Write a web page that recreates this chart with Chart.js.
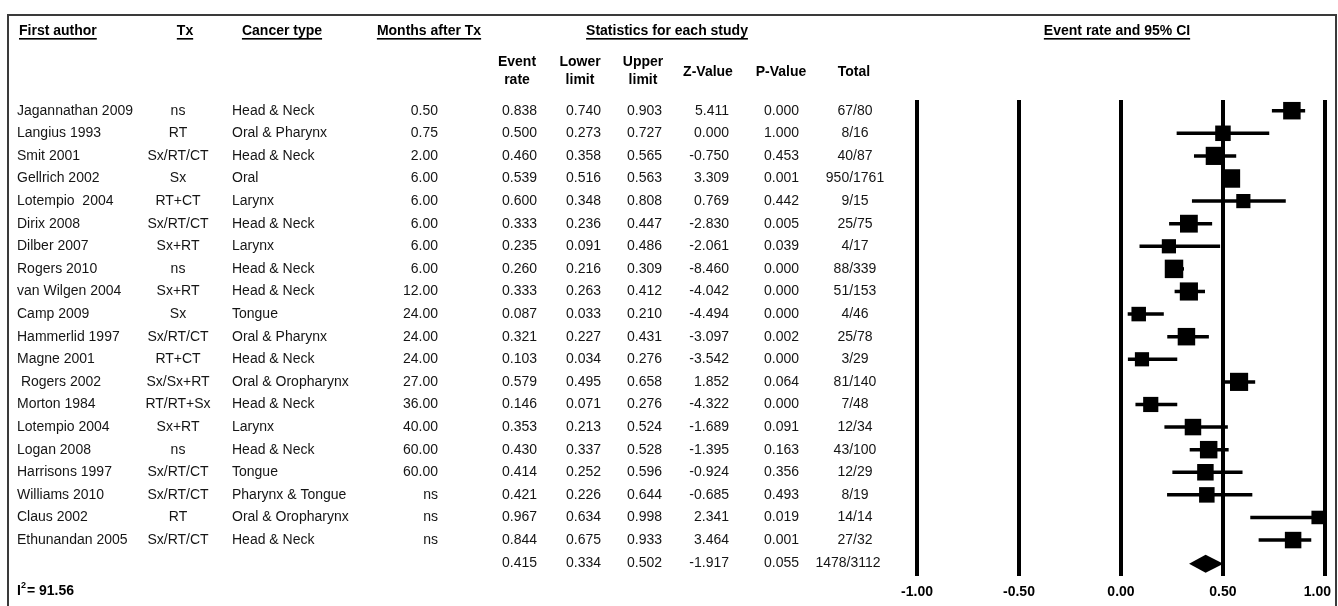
<!DOCTYPE html>
<html>
<head>
<meta charset="utf-8">
<title>Event rate forest plot</title>
<script src="https://cdn.jsdelivr.net/npm/chart.js@4/dist/chart.umd.min.js"></script>
<style>
  html, body { margin: 0; padding: 0; background: #ffffff; }
  #wrap { width: 1338px; height: 606px; position: relative; }
  canvas { display: block; }
</style>
</head>
<body>
<div id="wrap"><canvas id="forest" width="1338" height="606"></canvas></div>
<script>
// ---- study table ----
const authors = ["Jagannathan 2009", "Langius 1993", "Smit 2001", "Gellrich 2002", "Lotempio  2004",
  "Dirix 2008", "Dilber 2007", "Rogers 2010", "van Wilgen 2004", "Camp 2009", "Hammerlid 1997",
  "Magne 2001", " Rogers 2002", "Morton 1984", "Lotempio 2004", "Logan 2008", "Harrisons 1997",
  "Williams 2010", "Claus 2002", "Ethunandan 2005"];
const treatments = ["ns", "RT", "Sx/RT/CT", "Sx", "RT+CT", "Sx/RT/CT", "Sx+RT", "ns", "Sx+RT", "Sx",
  "Sx/RT/CT", "RT+CT", "Sx/Sx+RT", "RT/RT+Sx", "Sx+RT", "ns", "Sx/RT/CT", "Sx/RT/CT", "RT", "Sx/RT/CT"];
const cancerTypes = ["Head & Neck", "Oral & Pharynx", "Head & Neck", "Oral", "Larynx", "Head & Neck",
  "Larynx", "Head & Neck", "Head & Neck", "Tongue", "Oral & Pharynx", "Head & Neck", "Oral & Oropharynx",
  "Head & Neck", "Larynx", "Head & Neck", "Tongue", "Pharynx & Tongue", "Oral & Oropharynx", "Head & Neck"];
const monthsAfterTx = ["0.50", "0.75", "2.00", "6.00", "6.00", "6.00", "6.00", "6.00", "12.00", "24.00",
  "24.00", "24.00", "27.00", "36.00", "40.00", "60.00", "60.00", "ns", "ns", "ns"];
const eventRate = [0.838, 0.500, 0.460, 0.539, 0.600, 0.333, 0.235, 0.260, 0.333, 0.087, 0.321, 0.103,
  0.579, 0.146, 0.353, 0.430, 0.414, 0.421, 0.967, 0.844];
const lowerLimit = [0.740, 0.273, 0.358, 0.516, 0.348, 0.236, 0.091, 0.216, 0.263, 0.033, 0.227, 0.034,
  0.495, 0.071, 0.213, 0.337, 0.252, 0.226, 0.634, 0.675];
const upperLimit = [0.903, 0.727, 0.565, 0.563, 0.808, 0.447, 0.486, 0.309, 0.412, 0.210, 0.431, 0.276,
  0.658, 0.276, 0.524, 0.528, 0.596, 0.644, 0.998, 0.933];
const zValue = [5.411, 0.000, -0.750, 3.309, 0.769, -2.830, -2.061, -8.460, -4.042, -4.494, -3.097, -3.542,
  1.852, -4.322, -1.689, -1.395, -0.924, -0.685, 2.341, 3.464];
const pValue = [0.000, 1.000, 0.453, 0.001, 0.442, 0.005, 0.039, 0.000, 0.000, 0.000, 0.002, 0.000,
  0.064, 0.000, 0.091, 0.163, 0.356, 0.493, 0.019, 0.001];
const totals = ["67/80", "8/16", "40/87", "950/1761", "9/15", "25/75", "4/17", "88/339", "51/153", "4/46",
  "25/78", "3/29", "81/140", "7/48", "12/34", "43/100", "12/29", "8/19", "14/14", "27/32"];
// relative study weights (%), shown as marker size
const weights = [5.3, 4.7, 5.5, 5.6, 4.3, 5.4, 4.3, 5.6, 5.5, 4.4, 5.3, 4.3, 5.5, 4.6, 5.0, 5.3, 5.0, 4.7, 4.1, 5.0];

// ---- pooled estimate ----
const pooled = { rate: 0.415, lower: 0.334, upper: 0.502, z: -1.917, p: 0.055, total: "1478/3112" };
const heterogeneityI2 = "91.56";

// ---- axis ----
const xTicks = [-1.0, -0.5, 0.0, 0.5, 1.0];

const FONT = '"Liberation Sans", Arial, Helvetica, sans-serif';
const summaryRow = authors.length;

// CI whiskers, one short line per study
const ciSets = authors.map((a, i) => ({
  type: 'line',
  data: [{ x: lowerLimit[i], y: i }, { x: upperLimit[i], y: i }],
  borderColor: '#000',
  borderWidth: 3.5,
  pointRadius: 0,
  showLine: true,
  clip: false,
  order: 2
}));

// square markers sized by weight
const squareSet = {
  type: 'scatter',
  data: eventRate.map((r, i) => ({ x: r, y: i })),
  pointStyle: 'rect',
  pointRadius: weights.map(w => (w * 3.3) / Math.SQRT2),
  pointBackgroundColor: '#000',
  pointBorderWidth: 0,
  clip: false,
  order: 1
};

function fmt3(v) { return v.toFixed(3); }

const tablePlugin = {
  id: 'forestTable',
  afterDraw(chart) {
    const c = chart.ctx;
    const xs = chart.scales.x, ys = chart.scales.y;
    c.save();

    // outer frame
    c.strokeStyle = '#3a3a3a';
    c.lineWidth = 2;
    c.strokeRect(8, 15, 1328, 600);

    // pooled diamond
    const dy = ys.getPixelForValue(summaryRow) + 1;
    c.fillStyle = '#000';
    c.beginPath();
    c.moveTo(xs.getPixelForValue(pooled.lower), dy);
    c.lineTo(xs.getPixelForValue(pooled.rate), dy - 9);
    c.lineTo(xs.getPixelForValue(pooled.upper), dy);
    c.lineTo(xs.getPixelForValue(pooled.rate), dy + 9);
    c.closePath();
    c.fill();

    function txt(s, x, y, align, bold, underline) {
      c.font = (bold ? 'bold ' : '') + '14px ' + FONT;
      c.textAlign = align;
      c.textBaseline = 'middle';
      c.fillStyle = bold ? '#000' : '#151515';
      c.fillText(s, x, y);
      if (underline) {
        const w = c.measureText(s).width;
        let x0 = x;
        if (align === 'center') x0 = x - w / 2;
        else if (align === 'right') x0 = x - w;
        c.fillRect(x0, y + 7, w, 1.6);
      }
    }

    // column headers
    const hy = 31;
    txt('First author', 19, hy, 'left', true, true);
    txt('Tx', 185, hy, 'center', true, true);
    txt('Cancer type', 282, hy, 'center', true, true);
    txt('Months after Tx', 429, hy, 'center', true, true);
    txt('Statistics for each study', 667, hy, 'center', true, true);
    txt('Event rate and 95% CI', 1117, hy, 'center', true, true);

    txt('Event', 517, 62, 'center', true);
    txt('rate', 517, 80, 'center', true);
    txt('Lower', 580, 62, 'center', true);
    txt('limit', 580, 80, 'center', true);
    txt('Upper', 643, 62, 'center', true);
    txt('limit', 643, 80, 'center', true);
    txt('Z-Value', 708, 72, 'center', true);
    txt('P-Value', 781, 72, 'center', true);
    txt('Total', 854, 72, 'center', true);

    // study rows
    authors.forEach((a, i) => {
      const y = ys.getPixelForValue(i);
      txt(a, 17, y, 'left');
      txt(treatments[i], 178, y, 'center');
      txt(cancerTypes[i], 232, y, 'left');
      txt(monthsAfterTx[i], 438, y, 'right');
      txt(fmt3(eventRate[i]), 537, y, 'right');
      txt(fmt3(lowerLimit[i]), 601, y, 'right');
      txt(fmt3(upperLimit[i]), 662, y, 'right');
      txt(fmt3(zValue[i]), 729, y, 'right');
      txt(fmt3(pValue[i]), 799, y, 'right');
      txt(totals[i], 855, y, 'center');
    });

    // pooled row
    const py = ys.getPixelForValue(summaryRow);
    txt(fmt3(pooled.rate), 537, py, 'right');
    txt(fmt3(pooled.lower), 601, py, 'right');
    txt(fmt3(pooled.upper), 662, py, 'right');
    txt(fmt3(pooled.z), 729, py, 'right');
    txt(fmt3(pooled.p), 799, py, 'right');
    txt(pooled.total, 848, py, 'center');

    // heterogeneity
    c.font = 'bold 14px ' + FONT;
    c.textAlign = 'left';
    c.textBaseline = 'middle';
    c.fillStyle = '#000';
    c.fillText('I', 17, 591);
    const iw = c.measureText('I').width;
    c.font = 'bold 9px ' + FONT;
    c.fillText('2', 17 + iw, 586);
    c.font = 'bold 14px ' + FONT;
    c.fillText('= ' + heterogeneityI2, 17 + iw + 6, 591);

    // axis tick labels
    c.font = 'bold 14px ' + FONT;
    c.textAlign = 'center';
    xTicks.forEach(v => {
      const s = v.toFixed(2);
      const w = c.measureText(s).width;
      let x = xs.getPixelForValue(v);
      x = Math.min(x, 1331 - w / 2);
      c.fillText(s, x, 592);
    });

    c.restore();
  }
};

new Chart(document.getElementById('forest'), {
  type: 'scatter',
  data: { datasets: [...ciSets, squareSet] },
  options: {
    responsive: false,
    animation: false,
    events: [],
    layout: { padding: { left: 917, right: 11, top: 100, bottom: 0 } },
    plugins: { legend: { display: false }, tooltip: { enabled: false } },
    scales: {
      x: {
        type: 'linear',
        min: xTicks[0],
        max: xTicks[xTicks.length - 1],
        afterBuildTicks(s) { s.ticks = xTicks.map(v => ({ value: v })); },
        ticks: { display: false },
        grid: { color: '#000', lineWidth: 4, drawTicks: false },
        border: { display: false },
        afterFit(s) { s.height = 30; s.paddingLeft = 0; s.paddingRight = 0; }
      },
      y: {
        type: 'linear',
        reverse: true,
        min: -0.473,
        max: 20.59,
        display: false
      }
    }
  },
  plugins: [tablePlugin]
});
</script>
</body>
</html>
